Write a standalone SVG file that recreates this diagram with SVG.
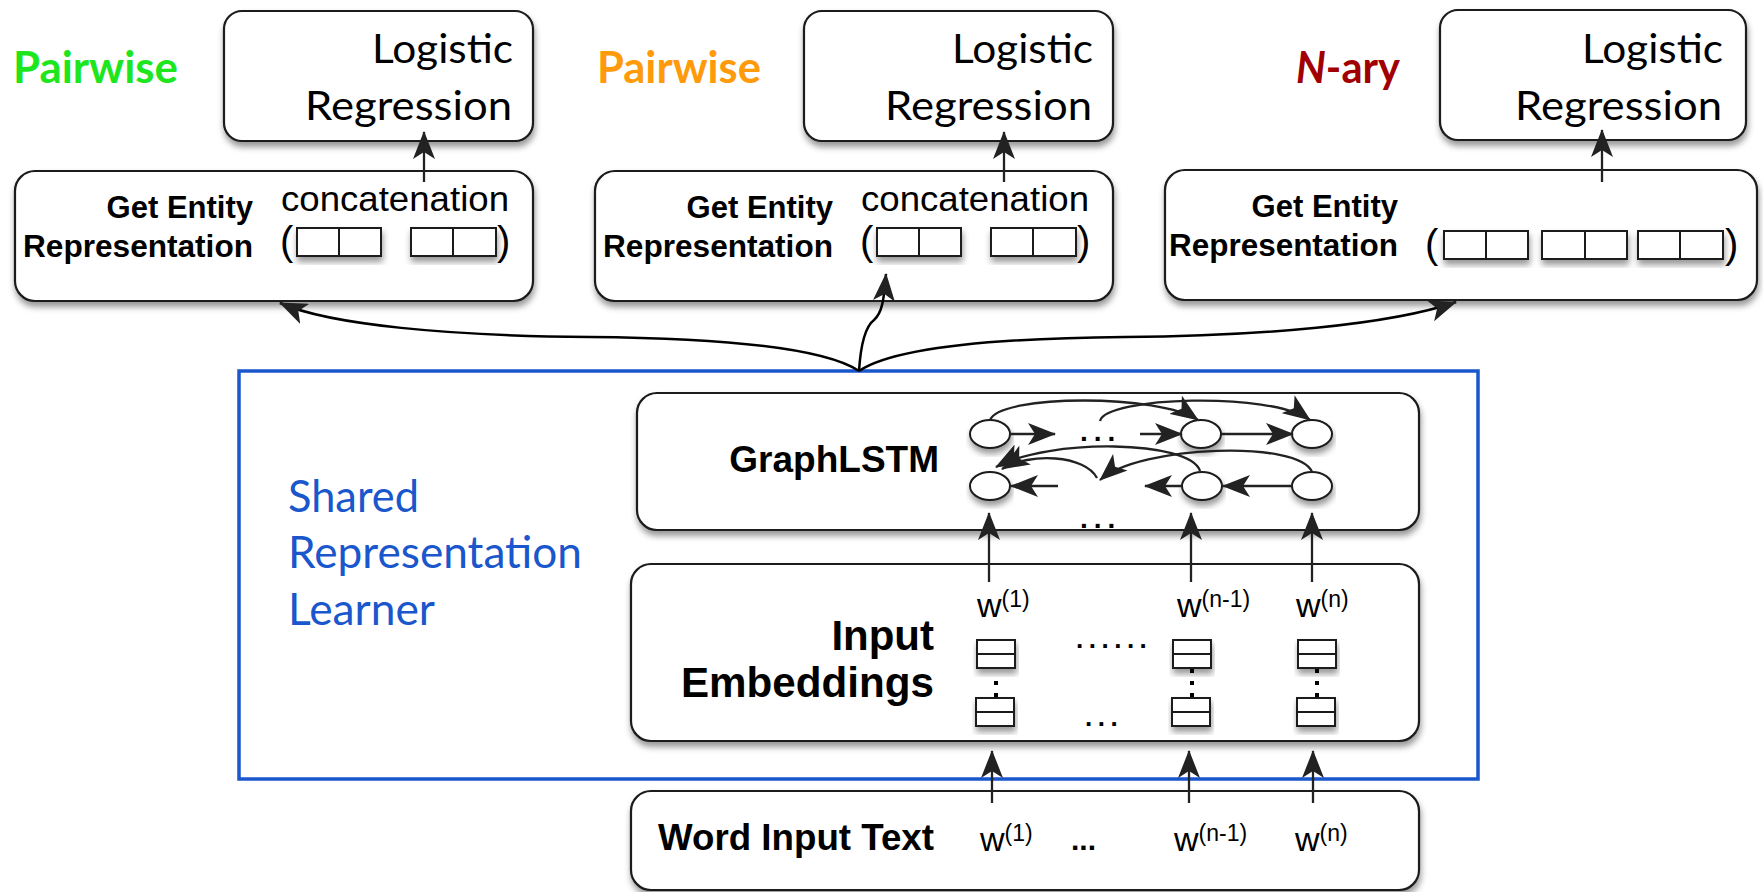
<svg xmlns="http://www.w3.org/2000/svg" width="1763" height="892" viewBox="0 0 1763 892">
  <defs>
    <filter id="sh" x="-10%" y="-20%" width="120%" height="150%">
      <feDropShadow dx="1" dy="5" stdDeviation="3" flood-color="#000" flood-opacity="0.4"/>
    </filter>
    <marker id="ah" markerUnits="userSpaceOnUse" markerWidth="28" markerHeight="22" viewBox="0 0 28 22" refX="27" refY="11" orient="auto">
      <path d="M0,0 L28,11 L0,22 L7,11 Z" fill="#222"/>
    </marker>
  </defs>
  <style>
    .box{fill:#fff;stroke:#1a1a1a;stroke-width:2.2;filter:url(#sh)}
    .cell{fill:#fff;stroke:#1a1a1a;stroke-width:2;filter:url(#sh)}
    .dv{stroke:#1a1a1a;stroke-width:2}
    .node{fill:#fff;stroke:#1a1a1a;stroke-width:2;filter:url(#sh)}
    .cal{font-family:Lato,'Open Sans',sans-serif;fill:#000}
    .hb{font-family:'Liberation Sans',Arial,sans-serif;font-weight:bold;fill:#000}
    .hr{font-family:'Liberation Sans',Arial,sans-serif;fill:#000}
    .ln{fill:none;stroke:#222;stroke-width:2.3;marker-end:url(#ah)}
    .fan{fill:none;stroke:#000;stroke-width:2.5;marker-end:url(#ah)}
    .dot{fill:#000}
  </style>

  <!-- task labels -->
  <text class="cal" x="13" y="83" font-size="43" font-weight="bold" style="fill:#1ee61e" textLength="165" lengthAdjust="spacingAndGlyphs">Pairwise</text>
  <text class="cal" x="597" y="83" font-size="43" font-weight="bold" style="fill:#ff9a0a" textLength="164" lengthAdjust="spacingAndGlyphs">Pairwise</text>
  <text class="cal" x="1296" y="83" font-size="43" font-weight="bold" style="fill:#a00000" textLength="104" lengthAdjust="spacingAndGlyphs"><tspan font-style="italic">N</tspan>-ary</text>

  <!-- logistic regression heads -->
  <g id="lr1">
    <rect class="box" x="224" y="11" width="309" height="130" rx="18"/>
    <text class="cal" x="513" y="63" font-size="41" text-anchor="end" textLength="141" lengthAdjust="spacingAndGlyphs">Logistic</text>
    <text class="cal" x="512" y="120" font-size="41" text-anchor="end" textLength="207" lengthAdjust="spacingAndGlyphs">Regression</text>
  </g>
  <g id="lr2">
    <rect class="box" x="804" y="11" width="309" height="130" rx="18"/>
    <text class="cal" x="1093" y="63" font-size="41" text-anchor="end" textLength="141" lengthAdjust="spacingAndGlyphs">Logistic</text>
    <text class="cal" x="1092" y="120" font-size="41" text-anchor="end" textLength="207" lengthAdjust="spacingAndGlyphs">Regression</text>
  </g>
  <g id="lr3">
    <rect class="box" x="1440" y="10" width="306" height="130" rx="18"/>
    <text class="cal" x="1723" y="63" font-size="41" text-anchor="end" textLength="141" lengthAdjust="spacingAndGlyphs">Logistic</text>
    <text class="cal" x="1722" y="120" font-size="41" text-anchor="end" textLength="207" lengthAdjust="spacingAndGlyphs">Regression</text>
  </g>

  <!-- entity representation blocks -->
  <g id="ent1">
    <rect class="box" x="15" y="171" width="518" height="130" rx="20"/>
    <text class="hb" x="253" y="218" font-size="31" text-anchor="end">Get Entity</text>
    <text class="hb" x="253" y="257" font-size="31" text-anchor="end" textLength="230" lengthAdjust="spacingAndGlyphs">Representation</text>
    <text class="hr" x="281" y="211" font-size="35" textLength="228" lengthAdjust="spacingAndGlyphs">concatenation</text>
    <text class="hr" x="280" y="255" font-size="40">(</text>
    <text class="hr" x="497" y="255" font-size="40">)</text>
    <rect class="cell" x="297" y="228" width="84" height="28"/><line class="dv" x1="339" y1="228" x2="339" y2="256"/>
    <rect class="cell" x="411" y="228" width="85" height="28"/><line class="dv" x1="453" y1="228" x2="453" y2="256"/>
  </g>
  <g id="ent2">
    <rect class="box" x="595" y="171" width="518" height="130" rx="20"/>
    <text class="hb" x="833" y="218" font-size="31" text-anchor="end">Get Entity</text>
    <text class="hb" x="833" y="257" font-size="31" text-anchor="end" textLength="230" lengthAdjust="spacingAndGlyphs">Representation</text>
    <text class="hr" x="861" y="211" font-size="35" textLength="228" lengthAdjust="spacingAndGlyphs">concatenation</text>
    <text class="hr" x="860" y="255" font-size="40">(</text>
    <text class="hr" x="1077" y="255" font-size="40">)</text>
    <rect class="cell" x="877" y="228" width="84" height="28"/><line class="dv" x1="919" y1="228" x2="919" y2="256"/>
    <rect class="cell" x="991" y="228" width="85" height="28"/><line class="dv" x1="1033" y1="228" x2="1033" y2="256"/>
  </g>
  <g id="ent3">
    <rect class="box" x="1165" y="170" width="592" height="130" rx="20"/>
    <text class="hb" x="1398" y="217" font-size="31" text-anchor="end">Get Entity</text>
    <text class="hb" x="1398" y="256" font-size="31" text-anchor="end" textLength="229" lengthAdjust="spacingAndGlyphs">Representation</text>
    <text class="hr" x="1425" y="258" font-size="40">(</text>
    <text class="hr" x="1725" y="258" font-size="40">)</text>
    <rect class="cell" x="1444" y="231" width="84" height="28"/><line class="dv" x1="1486" y1="231" x2="1486" y2="259"/>
    <rect class="cell" x="1542" y="231" width="85" height="28"/><line class="dv" x1="1585" y1="231" x2="1585" y2="259"/>
    <rect class="cell" x="1638" y="231" width="85" height="28"/><line class="dv" x1="1680" y1="231" x2="1680" y2="259"/>
  </g>

  <!-- shared representation learner frame -->
  <g id="shared">
    <rect x="239" y="371" width="1239" height="408" fill="none" stroke="#1a56cc" stroke-width="3.5"/>
    <text class="cal" x="288" y="512" font-size="44" style="fill:#1a56cc" textLength="131" lengthAdjust="spacingAndGlyphs">Shared</text>
    <text class="cal" x="288" y="568" font-size="44" style="fill:#1a56cc" textLength="294" lengthAdjust="spacingAndGlyphs">Representation</text>
    <text class="cal" x="288" y="625" font-size="44" style="fill:#1a56cc" textLength="147" lengthAdjust="spacingAndGlyphs">Learner</text>
  </g>

  <!-- GraphLSTM layer -->
  <g id="graphlstm">
    <rect class="box" x="637" y="393" width="782" height="137" rx="20"/>
    <text class="hb" x="939" y="472" font-size="37" text-anchor="end">GraphLSTM</text>
    <ellipse class="node" cx="990" cy="434" rx="20" ry="14"/>
    <ellipse class="node" cx="1201" cy="434" rx="20" ry="14"/>
    <ellipse class="node" cx="1312" cy="434" rx="20" ry="14"/>
    <ellipse class="node" cx="990" cy="486" rx="20" ry="14"/>
    <ellipse class="node" cx="1202" cy="486" rx="20" ry="14"/>
    <ellipse class="node" cx="1312" cy="486" rx="20" ry="14"/>
    <text class="hb" x="1080" y="441" font-size="28" letter-spacing="6">...</text>
    <text class="hb" x="1080" y="528" font-size="28" letter-spacing="6">...</text>
  </g>

  <!-- input embeddings layer -->
  <g id="embeddings">
    <rect class="box" x="631" y="564" width="788" height="177" rx="20"/>
    <text class="hb" x="934" y="650" font-size="42" text-anchor="end">Input</text>
    <text class="hb" x="934" y="697" font-size="42" text-anchor="end" textLength="253" lengthAdjust="spacingAndGlyphs">Embeddings</text>
    <text class="hr" x="977" y="617" font-size="34">w<tspan font-size="23" dy="-10">(1)</tspan></text>
    <text class="hr" x="1177" y="617" font-size="34">w<tspan font-size="23" dy="-10">(n-1)</tspan></text>
    <text class="hr" x="1296" y="617" font-size="34">w<tspan font-size="23" dy="-10">(n)</tspan></text>
    <rect class="cell" x="977" y="640" width="38" height="28"/><line class="dv" x1="977" y1="654" x2="1015" y2="654"/>
    <rect class="cell" x="976" y="698" width="38" height="28"/><line class="dv" x1="976" y1="712" x2="1014" y2="712"/>
    <rect class="cell" x="1173" y="640" width="38" height="28"/><line class="dv" x1="1173" y1="654" x2="1211" y2="654"/>
    <rect class="cell" x="1172" y="698" width="38" height="28"/><line class="dv" x1="1172" y1="712" x2="1210" y2="712"/>
    <rect class="cell" x="1298" y="640" width="38" height="28"/><line class="dv" x1="1298" y1="654" x2="1336" y2="654"/>
    <rect class="cell" x="1297" y="698" width="38" height="28"/><line class="dv" x1="1297" y1="712" x2="1335" y2="712"/>
    <rect class="dot" x="994" y="681" width="4" height="4"/><rect class="dot" x="994" y="693" width="4" height="4"/>
    <rect class="dot" x="1190" y="669" width="4" height="4"/><rect class="dot" x="1190" y="681" width="4" height="4"/><rect class="dot" x="1190" y="693" width="4" height="4"/>
    <rect class="dot" x="1315" y="669" width="4" height="4"/><rect class="dot" x="1315" y="681" width="4" height="4"/><rect class="dot" x="1315" y="693" width="4" height="4"/>
    <text class="hb" x="1076" y="648" font-size="26" letter-spacing="5.5">......</text>
    <text class="hb" x="1085" y="726" font-size="26" letter-spacing="5.5">...</text>
  </g>

  <!-- word input layer -->
  <g id="words">
    <rect class="box" x="631" y="791" width="788" height="99" rx="20"/>
    <text class="hb" x="658" y="850" font-size="36" textLength="276" lengthAdjust="spacingAndGlyphs">Word Input Text</text>
    <text class="hr" x="980" y="851" font-size="34">w<tspan font-size="23" dy="-10">(1)</tspan></text>
    <text class="hb" x="1071" y="850" font-size="30">...</text>
    <text class="hr" x="1174" y="851" font-size="34">w<tspan font-size="23" dy="-10">(n-1)</tspan></text>
    <text class="hr" x="1295" y="851" font-size="34">w<tspan font-size="23" dy="-10">(n)</tspan></text>
  </g>

  <!-- connectors -->
  <g id="connectors">
    <!-- entity representation to classifier -->
    <line class="ln" x1="424" y1="182" x2="424" y2="132"/>
    <line class="ln" x1="1004" y1="182" x2="1004" y2="132"/>
    <line class="ln" x1="1602" y1="182" x2="1602" y2="130"/>
    <!-- shared representation fanned out to the three tasks -->
    <path class="fan" d="M859,371 C820,345 700,338 590,337 C450,336 330,325 280,303"/>
    <path class="fan" d="M859,371 C861,340 866,326 874,320 C882,313 884,300 886,274"/>
    <path class="fan" d="M859,371 C898,345 1010,338 1125,337 C1260,336 1390,325 1456,302"/>
    <!-- forward chain -->
    <line class="ln" x1="1010" y1="434" x2="1055" y2="434"/>
    <line class="ln" x1="1140" y1="434" x2="1182" y2="434"/>
    <line class="ln" x1="1221" y1="434" x2="1293" y2="434"/>
    <path class="ln" d="M990,420 C1000,394 1160,394 1198,420"/>
    <path class="ln" d="M1100,421 C1105,397 1270,391 1310,420"/>
    <!-- backward chain -->
    <line class="ln" x1="1292" y1="486" x2="1223" y2="486"/>
    <line class="ln" x1="1182" y1="486" x2="1145" y2="486"/>
    <line class="ln" x1="1058" y1="486" x2="1011" y2="486"/>
    <path class="ln" d="M1312,472 C1300,440 1140,445 1100,480"/>
    <path class="ln" d="M1200,471 C1190,440 1050,438 996,467"/>
    <path class="ln" d="M1097,478 C1085,455 1030,452 1002,469"/>
    <!-- embeddings to GraphLSTM -->
    <line class="ln" x1="989" y1="582" x2="989" y2="513"/>
    <line class="ln" x1="1191" y1="582" x2="1191" y2="513"/>
    <line class="ln" x1="1312" y1="582" x2="1312" y2="513"/>
    <!-- words to embeddings -->
    <line class="ln" x1="992" y1="803" x2="992" y2="751"/>
    <line class="ln" x1="1189" y1="803" x2="1189" y2="751"/>
    <line class="ln" x1="1313" y1="803" x2="1313" y2="751"/>
  </g>
</svg>
